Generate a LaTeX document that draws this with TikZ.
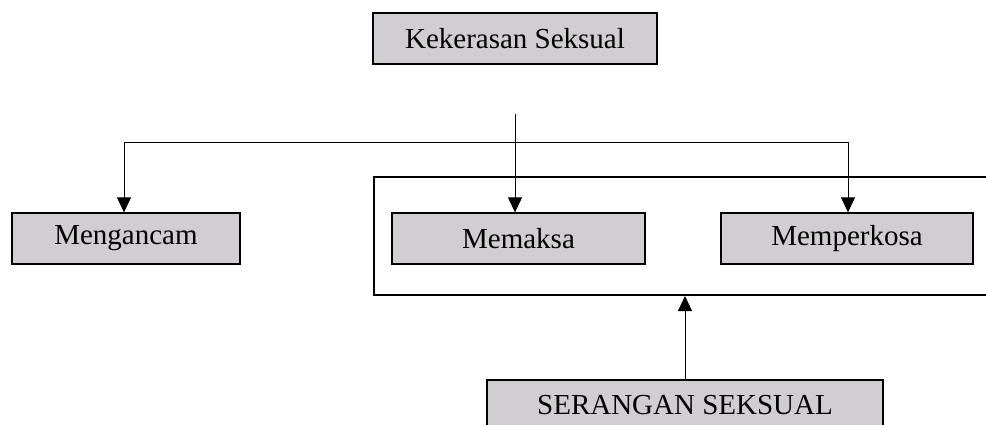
\documentclass[tikz,border=0pt]{standalone}
\usepackage{fontspec}
\setmainfont{Liberation Serif}
\usetikzlibrary{arrows.meta}
\definecolor{boxgray}{RGB}{208,206,208}
\begin{document}
\begin{tikzpicture}[x=1pt,y=-1pt,
  gbox/.style={draw=black,line width=1.3pt,fill=boxgray,inner sep=0pt,
    minimum height=51pt,font=\fontsize{29}{34}\selectfont},
  conn/.style={line width=1pt,draw=black},
  arr/.style={conn,-{Triangle[length=15pt,width=14pt]}}]
\useasboundingbox (0,0) rectangle (986,424);
\node[draw=black,line width=2pt,minimum width=640pt,minimum height=118pt,anchor=north west,inner sep=0pt] (group) at (373,176) {};
\node[gbox,minimum width=284pt] (top) at (515,38.5) {Kekerasan Seksual};
\node[gbox,minimum width=228pt] (mengancam) at (126,238.5) {Mengancam};
\node[gbox,minimum width=253pt] (memaksa) at (518.5,238.5) {Memaksa};
\node[gbox,minimum width=252pt] (memperkosa) at (847,238.5) {Memperkosa};
\node[gbox,minimum width=396pt] (serangan) at (685,405.5) {SERANGAN SEKSUAL};
\coordinate (stub) at (515,114);
\coordinate (hL) at (124,142);
\coordinate (hR) at (848,142);
\draw[conn] (hL) -- (hR);
\draw[arr] (stub) -- (stub |- memaksa.north);
\draw[arr] (hL) -- (hL |- mengancam.north);
\draw[arr] (hR) -- (hR |- memperkosa.north);
\draw[arr] (serangan.north) -- (serangan.north |- group.south);
\end{tikzpicture}
\end{document}
